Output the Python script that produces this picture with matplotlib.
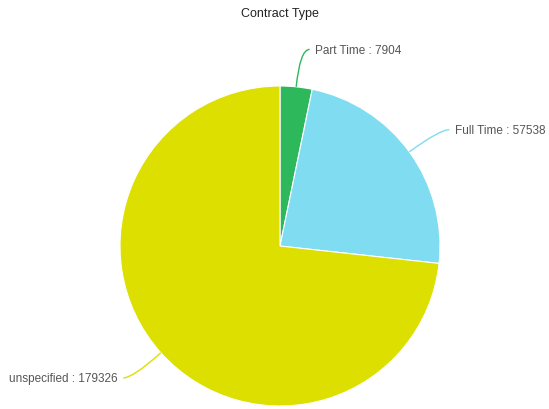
import numpy as np
import matplotlib
matplotlib.use("Agg")
import matplotlib.pyplot as plt
from matplotlib.path import Path
from matplotlib.patches import PathPatch

# contract type counts
labels = ["Part Time", "Full Time", "unspecified"]
counts = [7904, 57538, 179326]
colors = ["#2eb85c", "#80dcf0", "#dcdf00"]

plt.rcParams["font.family"] = ["Liberation Sans", "DejaVu Sans"]

fig = plt.figure(figsize=(5.49, 4.09), dpi=100)
ax = fig.add_axes([0, 0, 1, 1])

wedges, _ = ax.pie(counts, colors=colors, startangle=90, counterclock=False,
                   radius=1.0, center=(0, 0), frame=True,
                   wedgeprops=dict(edgecolor="white", linewidth=0.8))

# keep 1 unit = 160 px, pie centre at (280, 246) px
ax.set_aspect("auto")
ax.set_xlim(-280 / 160, (549 - 280) / 160)
ax.set_ylim(-(409 - 246) / 160, 246 / 160)
ax.axis("off")

# leader lines + labels
for w, lab, n, c in zip(wedges, labels, counts, colors):
    mid = np.deg2rad((w.theta1 + w.theta2) / 2)
    p0 = (np.cos(mid), np.sin(mid))
    p1 = (1.235 * np.cos(mid), 1.235 * np.sin(mid))
    side = 1 if p1[0] >= 0 else -1
    p2 = (p1[0] + side * 0.06, p1[1])
    path = Path([p0, p1, p2], [Path.MOVETO, Path.CURVE3, Path.CURVE3])
    ax.add_patch(PathPatch(path, fill=False, edgecolor=c, linewidth=1))
    ax.text(p2[0] + side * 0.035, p2[1] - 0.01, f"{lab} : {n}",
            ha="left" if side > 0 else "right", va="center",
            fontsize=8.5, color="#555555")

fig.text(280 / 549, 1 - 14 / 409, "Contract Type", ha="center", va="center",
         fontsize=9, color="#222222")

fig.savefig("out.png", dpi=100)
